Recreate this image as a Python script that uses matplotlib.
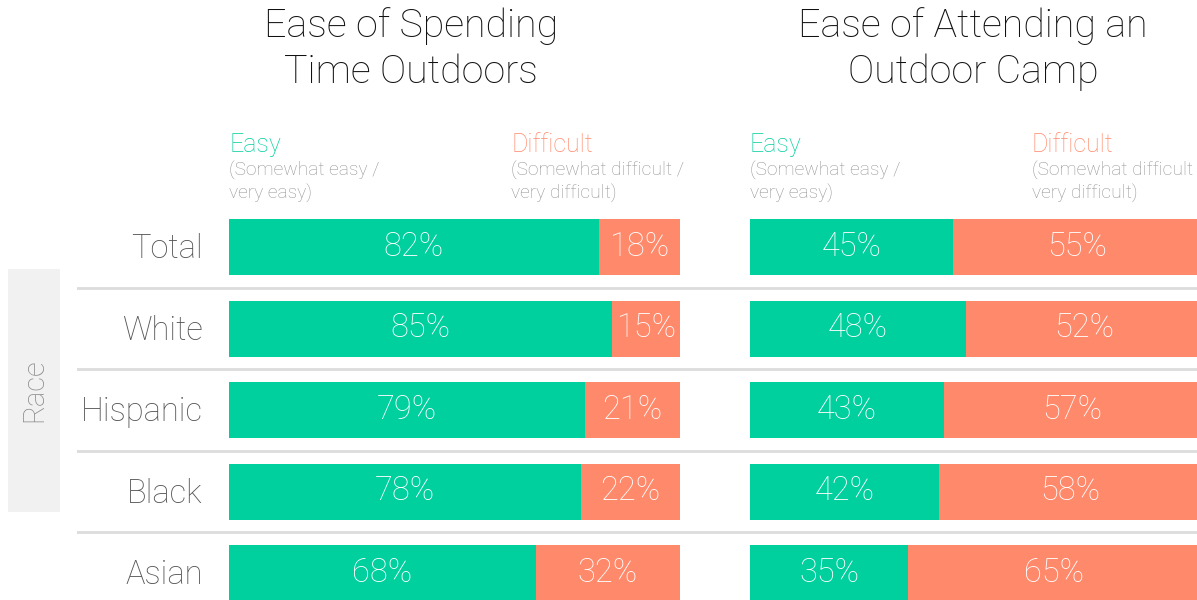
import matplotlib
matplotlib.use("Agg")
import matplotlib.pyplot as plt
from matplotlib.patches import Rectangle

# ---------------- data ----------------
categories = ["Total", "White", "Hispanic", "Black", "Asian"]
outdoors_easy = [82, 85, 79, 78, 68]
outdoors_difficult = [18, 15, 21, 22, 32]
camp_easy = [45, 48, 43, 42, 35]
camp_difficult = [55, 52, 57, 58, 65]
panel_titles = ["Ease of Spending\nTime Outdoors", "Ease of Attending an\nOutdoor Camp"]
easy_label = "Easy"
easy_sub = "(Somewhat easy /\nvery easy)"
diff_label = "Difficult"
diff_sub = "(Somewhat difficult /\nvery difficult)"
group_label = "Race"

# ---------------- style ----------------
GREEN = "#00CF9E"
SALMON = "#FF896B"
FONT = ["Roboto", "DejaVu Sans"]
W, H = 1197, 600
plt.rcParams["font.family"] = FONT

fig = plt.figure(figsize=(W / 100, H / 100), dpi=100)


def fx(x):
    return x / W


def fy(y):
    return 1 - y / H


# vertical layout (pixels): row centre = 247 + 81.5*i
row0, step = 247.0, 81.5
top_px, bot_px = 206.0, 600.0
ylim = ((bot_px - row0) / step, (top_px - row0) / step)

# separator lines (background axes)
bg = fig.add_axes([fx(77), fy(bot_px), fx(W - 77), (bot_px - top_px) / H])
bg.set_xlim(0, 1)
bg.set_ylim(*ylim)
for i in range(len(categories) - 1):
    bg.axhline(i + 0.5, color="#DCDCDC", lw=2)
bg.axis("off")

# Race box
fig.patches.append(Rectangle((fx(8), fy(512)), fx(52), (512 - 269) / H,
                             transform=fig.transFigure, facecolor="#F1F1F1",
                             edgecolor="none", zorder=0))
fig.text(fx(34), fy(390), group_label, rotation=90, ha="center", va="center",
         fontsize=21, color="#8A8A8A", fontweight="light")

panels = [
    (229, outdoors_easy, outdoors_difficult, 411),
    (750, camp_easy, camp_difficult, 973),
]
ypos = list(range(len(categories)))

for p, (left_px, easy, diff, tcx) in enumerate(panels):
    ax = fig.add_axes([fx(left_px), fy(bot_px), 451 / W, (bot_px - top_px) / H])
    ax.barh(ypos, easy, height=56 / step, color=GREEN, edgecolor="none")
    ax.barh(ypos, diff, left=easy, height=56 / step, color=SALMON, edgecolor="none")
    ax.set_xlim(0, 100)
    ax.set_ylim(*ylim)
    ax.axis("off")
    for i in ypos:
        ax.text(easy[i] / 2, i + 0.11, f"{easy[i]}%", ha="center", va="baseline",
                color="white", fontsize=23.5, fontweight="light")
        ax.text(easy[i] + diff[i] / 2, i + 0.11, f"{diff[i]}%", ha="center",
                va="baseline", color="white", fontsize=23.5, fontweight="light")
        if p == 0:
            ax.text(-26 / 451 * 100, i + 0.14, categories[i], ha="right",
                    va="baseline", color="#555555", fontsize=23.5,
                    fontweight="light", clip_on=False)
    # titles
    l1, l2 = panel_titles[p].split("\n")
    fig.text(fx(tcx), fy(37), l1, ha="center", va="baseline", fontsize=28.4,
             color="#111111", fontweight="light")
    fig.text(fx(tcx), fy(83), l2, ha="center", va="baseline", fontsize=28.4,
             color="#111111", fontweight="light")
    # legend headers
    for xoff, lab, sub, col in [(0, easy_label, easy_sub, GREEN),
                                (282, diff_label, diff_sub, SALMON)]:
        fig.text(fx(left_px + xoff), fy(152), lab, ha="left", va="baseline",
                 fontsize=18, color=col, fontweight="light")
        s1, s2 = sub.split("\n")
        fig.text(fx(left_px + xoff), fy(176), s1, ha="left", va="baseline",
                 fontsize=13.8, color="#959595", fontweight="light")
        fig.text(fx(left_px + xoff), fy(199), s2, ha="left", va="baseline",
                 fontsize=13.8, color="#959595", fontweight="light")

fig.savefig("out.png", dpi=100)
